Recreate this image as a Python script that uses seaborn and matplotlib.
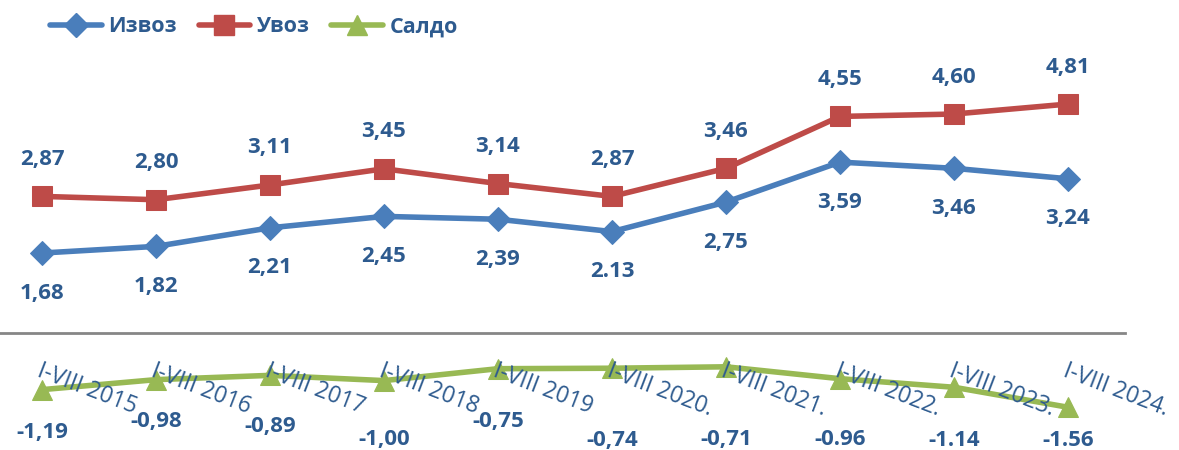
import pandas as pd
import matplotlib.pyplot as plt
import seaborn as sns
from matplotlib.lines import Line2D

sns.set_style('white')
plt.rcParams['font.family'] = ['Open Sans', 'DejaVu Sans']

# -----------------------------
# Data
# -----------------------------
periods = ['I-VIII 2015', 'I-VIII 2016', 'I-VIII 2017', 'I-VIII 2018', 'I-VIII 2019',
           'I-VIII 2020.', 'I-VIII 2021.', 'I-VIII 2022.', 'I-VIII 2023.', 'I-VIII 2024.']
izvoz = [1.68, 1.82, 2.21, 2.45, 2.39, 2.13, 2.75, 3.59, 3.46, 3.24]
uvoz = [2.87, 2.80, 3.11, 3.45, 3.14, 2.87, 3.46, 4.55, 4.60, 4.81]
saldo = [-1.19, -0.98, -0.89, -1.00, -0.75, -0.74, -0.71, -0.96, -1.14, -1.56]

izvoz_lbl = ['1,68', '1,82', '2,21', '2,45', '2,39', '2.13', '2,75', '3,59', '3,46', '3,24']
uvoz_lbl = ['2,87', '2,80', '3,11', '3,45', '3,14', '2,87', '3,46', '4,55', '4,60', '4,81']
saldo_lbl = ['-1,19', '-0,98', '-0,89', '-1,00', '-0,75', '-0,74', '-0,71', '-0.96', '-1.14', '-1.56']

series_names = ['Извоз', 'Увоз', 'Салдо']

df = pd.DataFrame({
    'period': periods * 3,
    'value': izvoz + uvoz + saldo,
    'series': [n for n in series_names for _ in periods],
})

# -----------------------------
# Style
# -----------------------------
colors = {'Извоз': '#4A7EBB', 'Увоз': '#BE4B48', 'Салдо': '#98B954'}
markers = {'Извоз': 'D', 'Увоз': 's', 'Салдо': '^'}
msizes = {'Извоз': 12, 'Увоз': 14, 'Салдо': 14}
lbl_color = '#2E5B8F'

# pixel offsets of the value labels
saldo_off = [-43, -42, -51, -59, -53, -72, -73, -61, -53, -33]

fig = plt.figure(figsize=(11.79, 4.5), dpi=100)
ax = fig.add_axes([-15 / 1179, 0, 1140 / 1179, 1])

for name in series_names:
    sub = df[df['series'] == name]
    sns.lineplot(data=sub, x='period', y='value', ax=ax, color=colors[name],
                 marker=markers[name], markersize=msizes[name], linewidth=4,
                 markeredgecolor=colors[name], sort=False, legend=False)

lbl_kw = dict(textcoords='offset pixels', ha='center', va='center',
              fontsize=16, fontweight='bold', color=lbl_color)
for i, p in enumerate(periods):
    ax.annotate(uvoz_lbl[i], (i, uvoz[i]), xytext=(0, 37), **lbl_kw)
    ax.annotate(izvoz_lbl[i], (i, izvoz[i]), xytext=(0, -40), **lbl_kw)
    ax.annotate(saldo_lbl[i], (i, saldo[i]), xytext=(0, saldo_off[i]), **lbl_kw)

ax.set_xlim(-0.5, 9.5)
ax.set_ylim(-2.458, 6.996)
ax.set_xlabel('')
ax.set_ylabel('')
ax.set_yticks([])
for s in ['top', 'right', 'left']:
    ax.spines[s].set_visible(False)
ax.spines['bottom'].set_position(('data', 0))
ax.spines['bottom'].set_color('#868686')
ax.spines['bottom'].set_linewidth(2)
ax.set_axisbelow(False)
ax.tick_params(axis='x', length=0, pad=19, labelsize=16.5, labelcolor=lbl_color)
for t in ax.get_xticklabels():
    t.set_rotation(-21)
    t.set_ha('left')
    t.set_va('top')
    t.set_rotation_mode('anchor')
ax.patch.set_alpha(0)

handles = [Line2D([0], [0], color=colors[n], marker=markers[n], markersize=msizes[n],
                  linewidth=4, markeredgecolor=colors[n]) for n in series_names]
leg = fig.legend(handles, series_names, loc='center', bbox_to_anchor=(254 / 1179, 1 - 27 / 450),
                 ncol=3, frameon=False, handlelength=2.4, handletextpad=0.3, columnspacing=1.0,
                 prop={'weight': 'bold', 'size': 15.5})
for t in leg.get_texts():
    t.set_color(lbl_color)

fig.savefig('out.png', dpi=100)
